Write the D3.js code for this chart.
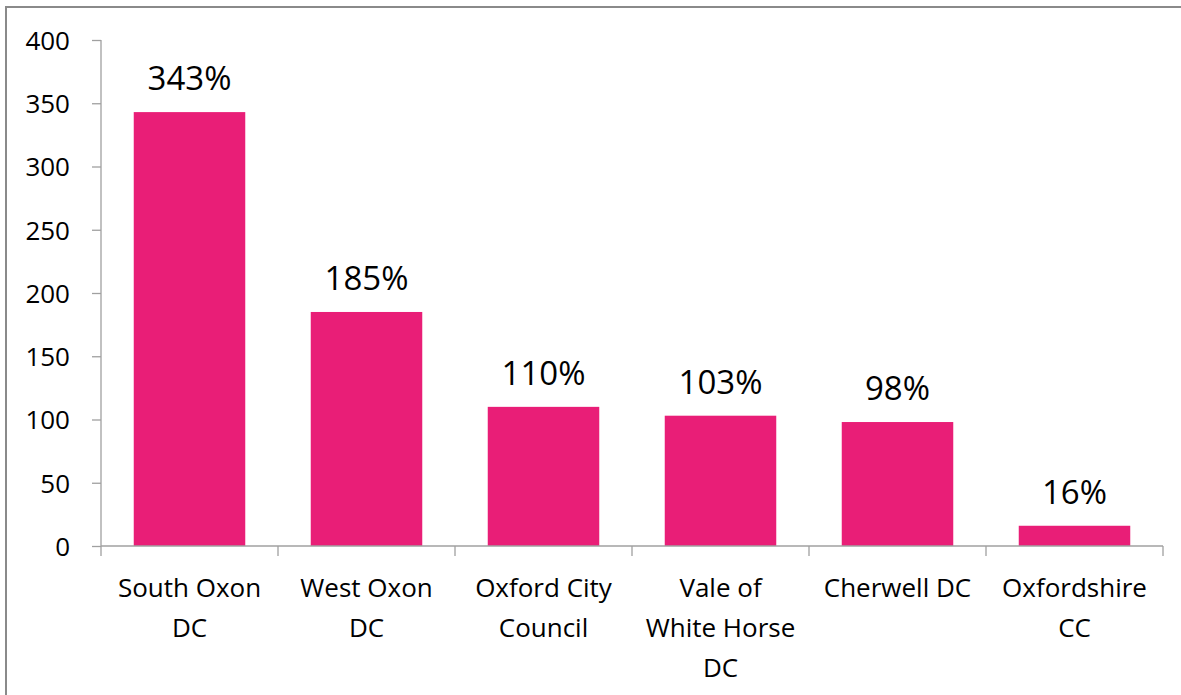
<!DOCTYPE html>
<html lang="en">
<head>
    <meta charset="UTF-8">
    <title>Oxfordshire councils</title>
    <script src="https://d3js.org/d3.v7.min.js" charset="utf-8"></script>
    <style>
        body { margin: 0; background: #fff; }
        text { font-family: "Open Sans", sans-serif; fill: #000; }
    </style>
</head>
<body>
    <div id="vis"></div>
    <script>

        var width = 1181;
        var height = 695;

        // data
        var categories = ["South Oxon DC", "West Oxon DC", "Oxford City Council",
            "Vale of White Horse DC", "Cherwell DC", "Oxfordshire CC"];
        var categoryLines = [["South Oxon", "DC"], ["West Oxon", "DC"], ["Oxford City", "Council"],
            ["Vale of", "White Horse", "DC"], ["Cherwell DC"], ["Oxfordshire", "CC"]];
        var values = [343, 185, 110, 103, 98, 16];
        var yTicks = [0, 50, 100, 150, 200, 250, 300, 350, 400];

        var plot = { left: 101, right: 1163, top: 40, bottom: 546 };

        var svg = d3.select("#vis")
            .append("svg")
            .attr("width", width)
            .attr("height", height);

        // outer frame (cut off at right and bottom)
        svg.append("rect")
            .attr("x", 6)
            .attr("y", 7)
            .attr("width", width + 20)
            .attr("height", height + 20)
            .attr("fill", "none")
            .attr("stroke", "#8a8a8a")
            .attr("stroke-width", 2);

        var x_scale = d3.scaleBand()
            .domain(categories)
            .range([plot.left, plot.right])
            .paddingInner(0.37)
            .paddingOuter(0.185);

        var y_scale = d3.scaleLinear()
            .domain([0, 400])
            .range([plot.bottom, plot.top]);

        // y axis
        var y_axis = d3.axisLeft(y_scale)
            .tickValues(yTicks)
            .tickSize(9)
            .tickPadding(22);

        var gy = svg.append("g")
            .attr("class", "y axis")
            .attr("transform", "translate(" + plot.left + ",0)")
            .call(y_axis);
        gy.selectAll("path, line").attr("stroke", "#a0a0a0").attr("stroke-width", 1.3);
        gy.select(".domain").attr("d", "M0," + plot.top + "V" + plot.bottom);
        gy.selectAll("text")
            .style("font-size", "26px")
            .style("font-family", "'Open Sans', sans-serif")
            .attr("dy", "0.36em");

        // bars
        svg.selectAll(".bar")
            .data(values)
            .enter()
            .append("rect")
            .attr("class", "bar")
            .attr("x", function(d, i){ return x_scale(categories[i]); })
            .attr("y", function(d){ return y_scale(d); })
            .attr("width", x_scale.bandwidth())
            .attr("height", function(d){ return y_scale(0) - y_scale(d); })
            .attr("fill", "#e91e77");

        // x axis: ticks at category boundaries
        var boundaries = d3.range(categories.length + 1).map(function(i){
            return plot.left + i * x_scale.step();
        });
        var gx = svg.append("g").attr("class", "x axis");
        gx.append("line")
            .attr("x1", plot.left).attr("x2", plot.right)
            .attr("y1", plot.bottom).attr("y2", plot.bottom)
            .attr("stroke", "#a0a0a0").attr("stroke-width", 1.3);
        gx.selectAll(".tick")
            .data(boundaries)
            .enter()
            .append("line")
            .attr("class", "tick")
            .attr("x1", function(d){ return d; }).attr("x2", function(d){ return d; })
            .attr("y1", plot.bottom).attr("y2", plot.bottom + 10)
            .attr("stroke", "#a0a0a0").attr("stroke-width", 1.3);

        var xl = gx.selectAll(".xlabel")
            .data(categoryLines)
            .enter()
            .append("text")
            .attr("class", "xlabel")
            .attr("text-anchor", "middle")
            .style("font-size", "26px")
            .attr("transform", function(d, i){
                return "translate(" + (x_scale(categories[i]) + x_scale.bandwidth() / 2) + ",597)";
            });
        xl.selectAll("tspan")
            .data(function(d){ return d; })
            .enter()
            .append("tspan")
            .attr("x", 0)
            .attr("y", function(d, i){ return i * 40; })
            .text(function(d){ return d; });

        // value labels
        svg.selectAll(".label")
            .data(values)
            .enter()
            .append("text")
            .attr("class", "label")
            .attr("text-anchor", "middle")
            .style("font-size", "33px")
            .attr("x", function(d, i){ return x_scale(categories[i]) + x_scale.bandwidth() / 2; })
            .attr("y", function(d){ return y_scale(d) - 22; })
            .text(function(d){ return d + "%"; });

    </script>
</body>
</html>
